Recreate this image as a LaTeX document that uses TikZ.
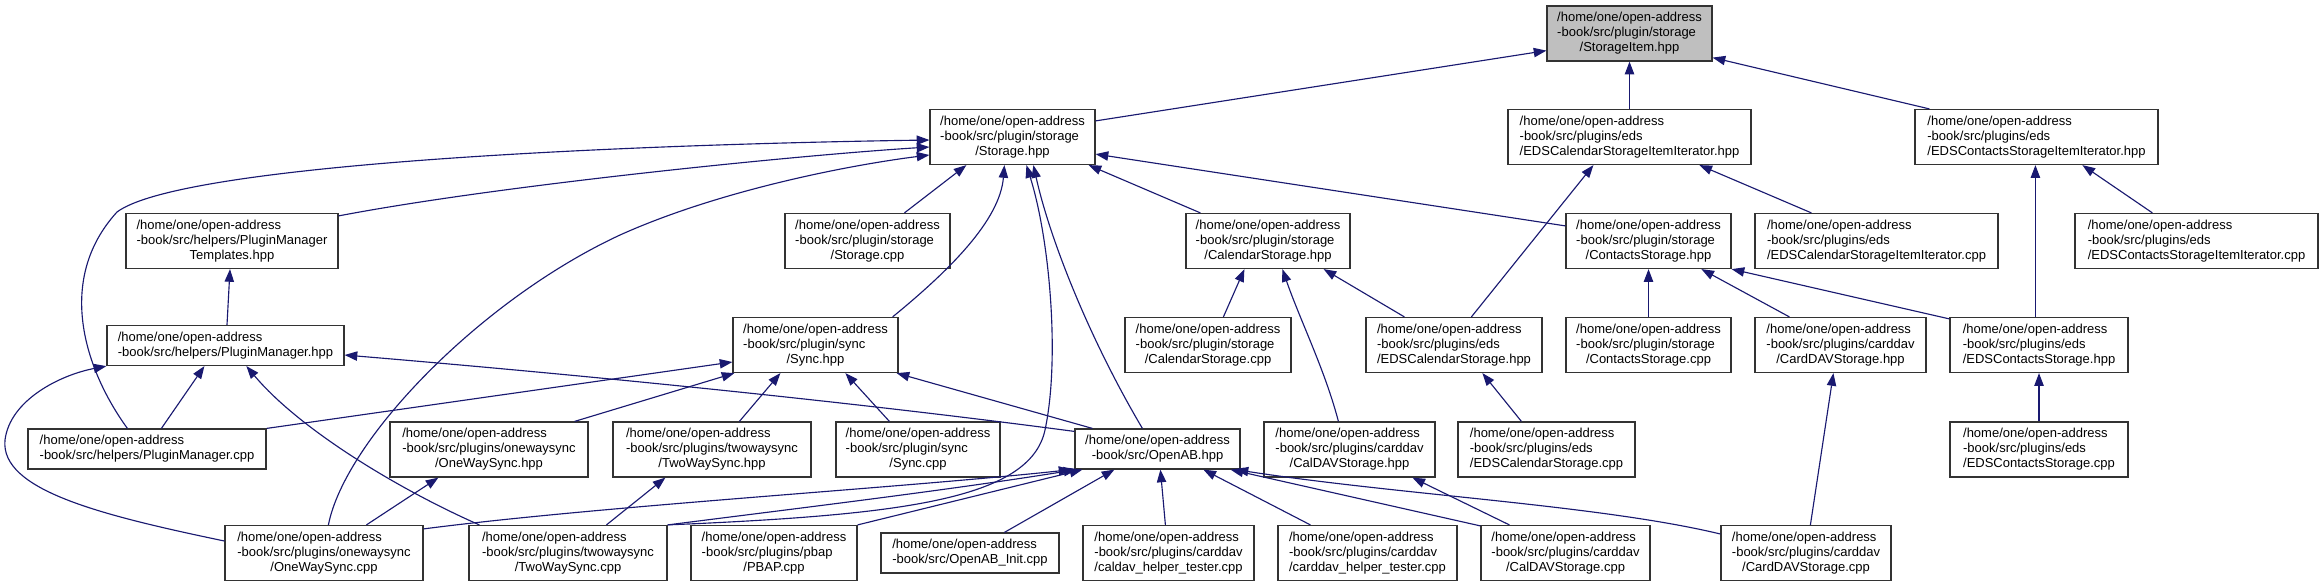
\documentclass[tikz,border=0pt]{standalone}
\usepackage{fontspec}
\setmainfont{Liberation Sans}
\usetikzlibrary{arrows.meta,calc}
\definecolor{edgeblue}{RGB}{25,25,112}
\newcommand{\fsz}{\fontsize{9.75}{11.25}\selectfont}
% three line label: first lines flush left, last line centred
\newcommand{\pth}[2]{\begin{tabular}{@{}l@{}}/home/one/open-address\\#1\\\multicolumn{1}{@{}c@{}}{#2}\end{tabular}}
\newcommand{\pthb}[1]{\begin{tabular}{@{}l@{}}/home/one/open-address\\\multicolumn{1}{@{}c@{}}{#1}\end{tabular}}
\begin{document}
\begin{tikzpicture}[x=0.75pt, y=-0.75pt,
  file/.style={draw=black!80, line width=0.9pt, rectangle, inner sep=0pt, font=\fsz, fill=white, minimum height=41.25pt},
  wd/.style={minimum width=#1*0.75pt},
  two/.style={minimum height=30pt},
  dep/.style={draw=edgeblue, line width=0.85pt, -{Triangle[length=9.5pt, width=7pt]}}]
\useasboundingbox (0,0) rectangle (2323,587);
% row 0
\node[file, wd=165, fill=black!25] (sitem) at (1629.5,33.5) {\pth{-book/src/plugin/storage}{/StorageItem.hpp}};
% row 1
\node[file, wd=165] (storh) at (1012.5,137) {\pth{-book/src/plugin/storage}{/Storage.hpp}};
\node[file, wd=243] (edscalith) at (1629.5,137) {\pth{-book/src/plugins/eds}{/EDSCalendarStorageItemIterator.hpp}};
\node[file, wd=243] (edsconith) at (2036.5,137) {\pth{-book/src/plugins/eds}{/EDSContactsStorageItemIterator.hpp}};
% row 2
\node[file, wd=212] (pmtpl) at (232,241) {\pth{-book/src/helpers/PluginManager}{Templates.hpp}};
\node[file, wd=165] (storc) at (867.5,241) {\pth{-book/src/plugin/storage}{/Storage.cpp}};
\node[file, wd=164] (calh) at (1268,241) {\pth{-book/src/plugin/storage}{/CalendarStorage.hpp}};
\node[file, wd=165] (conh) at (1648.5,241) {\pth{-book/src/plugin/storage}{/ContactsStorage.hpp}};
\node[file, wd=243] (edscalitc) at (1876.5,241) {\pth{-book/src/plugins/eds}{/EDSCalendarStorageItemIterator.cpp}};
\node[file, wd=243] (edsconitc) at (2196.5,241) {\pth{-book/src/plugins/eds}{/EDSContactsStorageItemIterator.cpp}};
% row 3
\node[file, wd=237, two] (pmh) at (225.5,345.5) {\pthb{-book/src/helpers/PluginManager.hpp}};
\node[file, wd=165] (synch) at (815.5,345) {\pth{-book/src/plugin/sync}{/Sync.hpp}};
\node[file, wd=166] (calc) at (1208,345) {\pth{-book/src/plugin/storage}{/CalendarStorage.cpp}};
\node[file, wd=176] (edscalh) at (1454,345) {\pth{-book/src/plugins/eds}{/EDSCalendarStorage.hpp}};
\node[file, wd=165] (conc) at (1648.5,345) {\pth{-book/src/plugin/storage}{/ContactsStorage.cpp}};
\node[file, wd=171] (carddavh) at (1840.5,345) {\pth{-book/src/plugins/carddav}{/CardDAVStorage.hpp}};
\node[file, wd=178] (edsconh) at (2039,345) {\pth{-book/src/plugins/eds}{/EDSContactsStorage.hpp}};
% row 4
\node[file, wd=238, two] (pmc) at (147,449) {\pthb{-book/src/helpers/PluginManager.cpp}};
\node[file, wd=198] (onewh) at (489,449.5) {\pth{-book/src/plugins/onewaysync}{/OneWaySync.hpp}};
\node[file, wd=198] (twowh) at (712,449.5) {\pth{-book/src/plugins/twowaysync}{/TwoWaySync.hpp}};
\node[file, wd=164] (syncc) at (918,449.5) {\pth{-book/src/plugin/sync}{/Sync.cpp}};
\node[file, wd=165, two] (openabh) at (1157.5,449) {\pthb{-book/src/OpenAB.hpp}};
\node[file, wd=171] (caldavh) at (1349.5,449.5) {\pth{-book/src/plugins/carddav}{/CalDAVStorage.hpp}};
\node[file, wd=177] (edscalc) at (1546.5,449.5) {\pth{-book/src/plugins/eds}{/EDSCalendarStorage.cpp}};
\node[file, wd=178] (edsconc) at (2039,449.5) {\pth{-book/src/plugins/eds}{/EDSContactsStorage.cpp}};
% row 5
\node[file, wd=198] (onewc) at (324,553) {\pth{-book/src/plugins/onewaysync}{/OneWaySync.cpp}};
\node[file, wd=198] (twowc) at (568,553) {\pth{-book/src/plugins/twowaysync}{/TwoWaySync.cpp}};
\node[file, wd=166] (pbapc) at (774,553) {\pth{-book/src/plugins/pbap}{/PBAP.cpp}};
\node[file, wd=178, two] (initc) at (970,553) {\pthb{-book/src/OpenAB\_Init.cpp}};
\node[file, wd=171] (caldavtc) at (1168.5,553) {\pth{-book/src/plugins/carddav}{/caldav\_helper\_tester.cpp}};
\node[file, wd=179] (carddavtc) at (1367.5,553) {\pth{-book/src/plugins/carddav}{/carddav\_helper\_tester.cpp}};
\node[file, wd=169] (caldavc) at (1565.5,553) {\pth{-book/src/plugins/carddav}{/CalDAVStorage.cpp}};
\node[file, wd=170] (carddavc) at (1806,553) {\pth{-book/src/plugins/carddav}{/CardDAVStorage.cpp}};
% includes of StorageItem.hpp
\draw[dep] ($(storh.north east)+(0,12)$) -- ($(sitem.south west)+(0,-11)$);
\draw[dep] (edscalith.north) -- (sitem.south);
\draw[dep] ($(edsconith.north west)+(15,0)$) -- ($(sitem.south east)+(0,-4)$);
% includes of Storage.hpp
\draw[dep] ($(pmtpl.north east)+(0,3)$) .. controls (500,185) and (800,155) .. ($(storh.west)+(0,10)$);
\draw[dep] ($(pmc.north west)+(100,0)$) .. controls (85,370) and (55,280) .. (117,212) .. controls (180,165) and (600,145) .. ($(storh.west)+(0,3)$);
\draw[dep] ($(onewc.north west)+(104,0)$) .. controls (345,440) and (480,300) .. (620,235) .. controls (720,190) and (850,165) .. ($(storh.west)+(0,18)$);
\draw[dep] ($(storc.north west)+(120,0)$) -- ($(storh.south west)+(37,0)$);
\draw[dep] ($(synch.north east)+(-6,0)$) .. controls (950,270) and (1000,220) .. ($(storh.south west)+(75,0)$);
\draw[dep] (twowc.north east) .. controls (900,515) and (1030,500) .. (1045,430) .. controls (1060,360) and (1050,240) .. ($(storh.south west)+(97,0)$);
\draw[dep] ($(openabh.north west)+(68,0)$) .. controls (1090,340) and (1050,240) .. ($(storh.south west)+(104,0)$);
\draw[dep] ($(calh.north west)+(15,0)$) -- ($(storh.south east)+(-7,0)$);
\draw[dep] ($(conh.north west)+(0,13)$) -- ($(storh.south east)+(0,-11)$);
% plugin manager
\draw[dep] ($(pmh.north)+(1.5,0)$) -- ($(pmtpl.south)+(-2,0)$);
\draw[dep] ($(pmc.north west)+(134,0)$) -- ($(pmh.south west)+(98,0)$);
\draw[dep] ($(onewc.west)+(0,-12)$) .. controls (100,515) and (0,490) .. (5,440) .. controls (10,400) and (60,375) .. (pmh.south west);
\draw[dep] ($(twowc.north west)+(11,0)$) .. controls (400,490) and (300,430) .. ($(pmh.south west)+(140,0)$);
\draw[dep] ($(openabh.north west)+(0,3)$) .. controls (800,395) and (500,368) .. ($(pmh.east)+(0,9.5)$);
% sync
\draw[dep] (pmc.north east) -- ($(synch.west)+(0,17)$);
\draw[dep] ($(onewh.north east)+(-14,0)$) -- ($(synch.south west)+(2,0)$);
\draw[dep] ($(twowh.north west)+(127,0)$) -- ($(synch.south west)+(48,0)$);
\draw[dep] ($(syncc.north west)+(54,0)$) -- ($(synch.south west)+(113,0)$);
\draw[dep] ($(openabh.north west)+(18,0)$) -- ($(synch.south east)+(-2,0)$);
\draw[dep] ($(onewc.north west)+(142,0)$) -- ($(onewh.south west)+(49,0)$);
\draw[dep] ($(twowc.north west)+(138,0)$) -- ($(twowh.south west)+(53,0)$);
% OpenAB.hpp
\draw[dep] ($(onewc.north east)+(0,4)$) .. controls (600,506) and (900,488) .. ($(openabh.south west)+(-3,0)$);
\draw[dep] (twowc.north east) .. controls (800,508) and (950,490) .. ($(openabh.south west)+(2,0)$);
\draw[dep] (pbapc.north east) -- ($(openabh.south west)+(8,0)$);
\draw[dep] ($(initc.north west)+(124,0)$) -- ($(openabh.south west)+(40,0)$);
\draw[dep] ($(caldavtc.north west)+(83,0)$) -- ($(openabh.south west)+(86,0)$);
\draw[dep] ($(carddavtc.north west)+(33,0)$) -- ($(openabh.south west)+(129,0)$);
\draw[dep] ($(caldavc.north west)+(0,1)$) -- ($(openabh.south east)+(-10,0)$);
\draw[dep] ($(carddavc.west)+(0,-19)$) .. controls (1600,505) and (1400,495) .. ($(openabh.south east)+(-5,0)$);
% calendar / contacts storage
\draw[dep] ($(caldavh.north west)+(75,0)$) .. controls (1325,370) and (1300,320) .. ($(calh.south west)+(97,0)$);
\draw[dep] ($(calc.north west)+(99,0)$) -- ($(calh.south west)+(59,0)$);
\draw[dep] ($(edscalh.north west)+(39,0)$) -- ($(calh.south east)+(-27,0)$);
\draw[dep] ($(edscalh.north west)+(106,0)$) -- ($(edscalith.south west)+(86,0)$);
\draw[dep] ($(edscalc.north west)+(64,0)$) -- ($(edscalh.south west)+(117,0)$);
\draw[dep] ($(caldavc.north west)+(29,0)$) -- ($(caldavh.south west)+(149,0)$);
\draw[dep] (conc.north) -- (conh.south);
\draw[dep] ($(carddavh.north west)+(35,0)$) -- ($(conh.south west)+(136,0)$);
\draw[dep] ($(edsconh.north west)+(0,2)$) -- (conh.south east);
\draw[dep] ($(carddavc.north west)+(90,0)$) -- ($(carddavh.south west)+(79,0)$);
\draw[dep] (edsconc.north) -- (edsconh.south);
\draw[dep] ($(edsconh.north west)+(86,0)$) -- ($(edsconith.south west)+(121,0)$);
\draw[dep] ($(edscalitc.north west)+(57,0)$) -- ($(edscalith.south west)+(192,0)$);
\draw[dep] ($(edsconitc.north west)+(78,0)$) -- ($(edsconith.south west)+(168,0)$);
\end{tikzpicture}
\end{document}
